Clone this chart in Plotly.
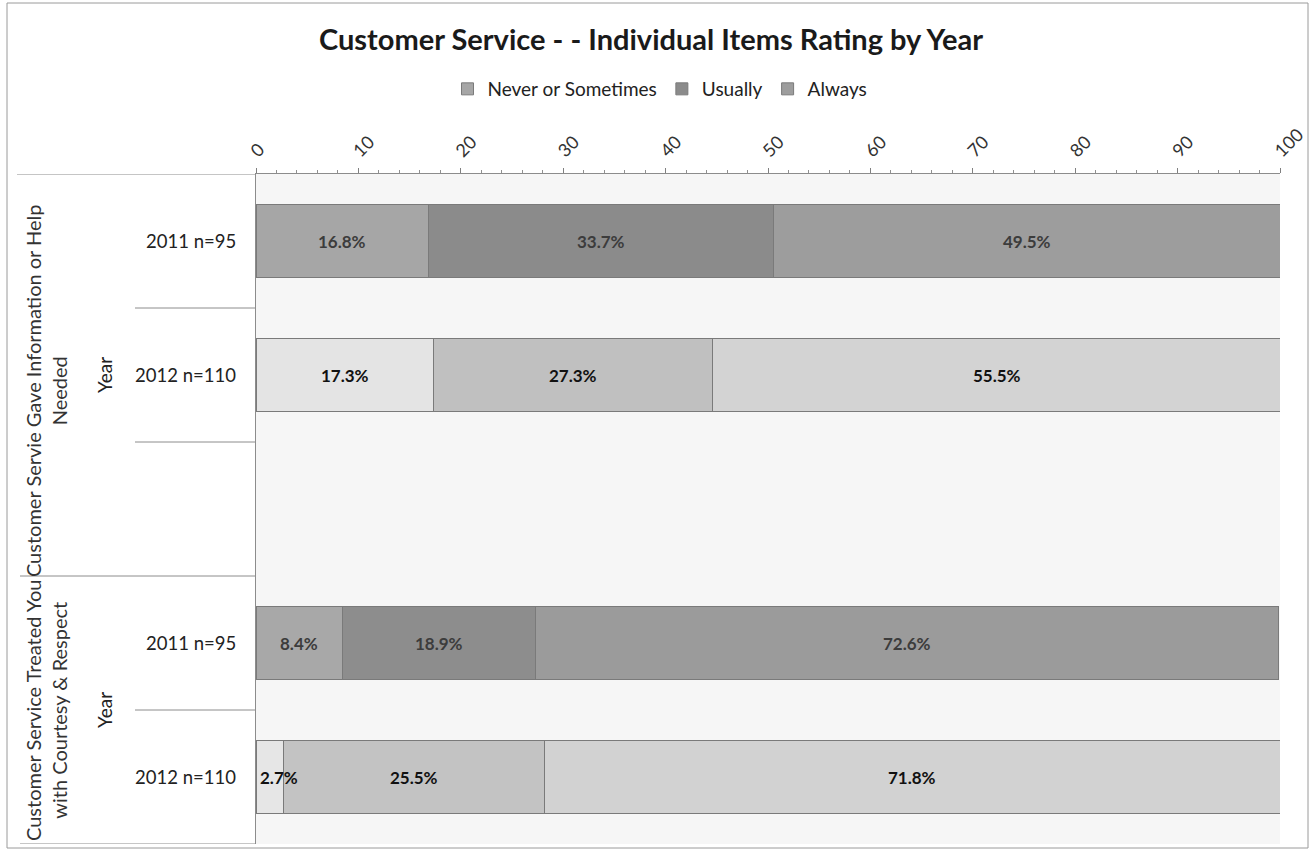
import plotly.graph_objects as go

# Rows of the multi-level category axis (blank row separates the two items)
row_labels = ["2011 n=95", "2012 n=110", "", "2011 n=95", "2012 n=110"]
item_labels = [
    "Customer Servie Gave Information or Help<br>Needed",
    "Customer Service Treated You<br>with Courtesy & Respect",
]
series_names = ["Never or Sometimes", "Usually", "Always"]

never_pct = [16.8, 17.3, None, 8.4, 2.7]
usually_pct = [33.7, 27.3, None, 18.9, 25.5]
always_pct = [49.5, 55.5, None, 72.6, 71.8]

x_ticks = [0, 10, 20, 30, 40, 50, 60, 70, 80, 90, 100]

# Per-row gray shades (2011 rows darker, 2012 rows lighter)
never_colors = ["#a6a6a6", "#e4e4e4", "#ffffff", "#a8a8a8", "#e6e6e6"]
usually_colors = ["#8b8b8b", "#c0c0c0", "#ffffff", "#8d8d8d", "#c3c3c3"]
always_colors = ["#9d9d9d", "#d3d3d3", "#ffffff", "#9b9b9b", "#d2d2d2"]
label_colors = ["#3c3c3c", "#111111", "#111111", "#3c3c3c", "#111111"]

FONT = "Lato, Open Sans, sans-serif"
W, H = 1311, 852
ML, MR, MT, MB = 256, 31, 174, 8
PW = W - ML - MR
PH = H - MT - MB
X_MAX = 100


def px_x(p):
    return (p - ML) / PW


def px_y(p):
    return (H - MB - p) / PH


rows = list(range(len(row_labels)))
series = [
    (series_names[0], never_pct, never_colors),
    (series_names[1], usually_pct, usually_colors),
    (series_names[2], always_pct, always_colors),
]

fig = go.Figure()
for name, vals, cols in series:
    fig.add_trace(go.Bar(
        name=name,
        y=rows,
        x=vals,
        orientation="h",
        width=0.55,
        marker=dict(color=cols, line=dict(color="#7a7a7a", width=1)),
        hoverinfo="skip",
    ))

annotations = []
# Percentage labels centred on each stacked segment, nudged inward at the axis
for r in rows:
    start = 0.0
    for _, vals, _ in series:
        v = vals[r]
        if v is None:
            continue
        centre = start + v / 2
        centre_px = centre / X_MAX * PW
        shift = max(0.0, 23 - centre_px)
        annotations.append(dict(
            xref="x", yref="y", x=centre, y=r, text=f"<b>{v:.1f}%</b>",
            showarrow=False, xanchor="center", yanchor="middle", xshift=shift,
            font=dict(family=FONT, size=17, color=label_colors[r])))
        start += v

shapes = []
# Chart frame
shapes.append(dict(type="rect", xref="paper", yref="paper",
                   x0=px_x(7), x1=px_x(1308), y0=px_y(848), y1=px_y(3),
                   line=dict(color="#9a9a9a", width=1), fillcolor="rgba(0,0,0,0)",
                   layer="below"))
# White band behind the category labels
shapes.append(dict(type="rect", xref="paper", yref="paper",
                   x0=px_x(8), x1=0, y0=0, y1=1,
                   line=dict(width=0), fillcolor="white", layer="below"))
# Category separators
line_style = dict(color="#8c8c8c", width=1)
shapes.append(dict(type="line", xref="paper", yref="y", x0=px_x(17), x1=0,
                   y0=-0.5, y1=-0.5, line=line_style))
for b in [0.5, 1.5, 3.5]:
    shapes.append(dict(type="line", xref="paper", yref="y", x0=px_x(135), x1=0,
                       y0=b, y1=b, line=line_style))
for b in [2.5, 4.5]:
    shapes.append(dict(type="line", xref="paper", yref="y", x0=px_x(20), x1=0,
                       y0=b, y1=b, line=line_style))

for r, lab in zip(rows, row_labels):
    if lab:
        annotations.append(dict(xref="paper", yref="y", x=px_x(238), y=r,
                                text=lab, showarrow=False, xanchor="right",
                                yanchor="middle",
                                font=dict(family=FONT, size=18.5, color="#222222")))
for yc in [1.0, 3.5]:
    annotations.append(dict(xref="paper", yref="y", x=px_x(104), y=yc,
                            text="Year", showarrow=False, textangle=-90,
                            xanchor="center", yanchor="middle",
                            font=dict(family=FONT, size=19, color="#222222")))
for yc, lab in zip([1.12, 3.5], item_labels):
    annotations.append(dict(xref="paper", yref="y", x=px_x(46), y=yc,
                            text=lab, showarrow=False, textangle=-90,
                            xanchor="center", yanchor="middle",
                            font=dict(family=FONT, size=20, color="#333333")))

fig.update_layout(
    width=W, height=H,
    margin=dict(l=ML, r=MR, t=MT, b=MB, autoexpand=False),
    barmode="stack",
    paper_bgcolor="white",
    plot_bgcolor="#f6f6f6",
    font=dict(family=FONT, color="#222222"),
    title=dict(text="<b>Customer Service - - Individual Items Rating by Year</b>",
               xref="container", x=0.4966, xanchor="center",
               yref="container", y=1 - 40 / H, yanchor="middle",
               font=dict(family=FONT, size=29, color="#1a1a1a")),
    legend=dict(orientation="h", xref="paper", x=px_x(660), xanchor="center",
                yref="paper", y=px_y(89), yanchor="middle",
                font=dict(family=FONT, size=19, color="#222222"),
                traceorder="normal", itemwidth=30, bgcolor="rgba(0,0,0,0)"),
    xaxis=dict(side="top", range=[0, X_MAX], tickvals=x_ticks,
               ticks="outside", ticklen=5, tickcolor="#808080",
               showline=True, linecolor="#8c8c8c", showgrid=False, zeroline=False,
               tickangle=-45, ticklabeloverflow="allow", automargin=False,
               ticklabelshift=-4,
               tickfont=dict(family=FONT, size=18, color="#333333"),
               minor=dict(dtick=2, ticks="outside", ticklen=3, tickcolor="#909090")),
    yaxis=dict(range=[4.5, -0.5], showticklabels=False, showgrid=False,
               zeroline=False, showline=True, linecolor="#8c8c8c", ticks="",
               automargin=False),
    shapes=shapes,
    annotations=annotations,
    showlegend=True,
)

fig.write_html("out.html")
